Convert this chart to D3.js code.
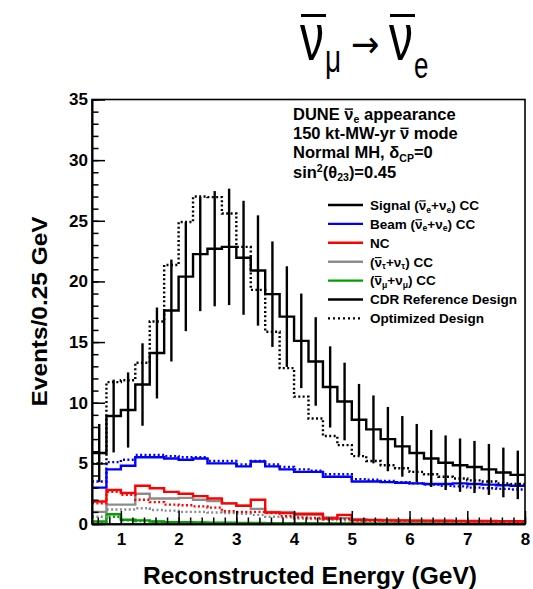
<!DOCTYPE html>
<html>
<head>
<meta charset="utf-8">
<script src="https://cdn.jsdelivr.net/npm/d3@7/dist/d3.min.js"></script>
<style>
  html, body { margin: 0; padding: 0; background: #ffffff; }
  svg { display: block; }
  text { font-family: "Liberation Sans", Arial, Helvetica, sans-serif; }
</style>
</head>
<body>
<svg id="chart" width="533" height="589"></svg>
<script>
// Lower edges of the 0.25 GeV reconstructed-energy bins (0.5 - 8 GeV)
const binEdges = [0.5, 0.75, 1.0, 1.25, 1.5, 1.75, 2.0, 2.25, 2.5, 2.75,
                  3.0, 3.25, 3.5, 3.75, 4.0, 4.25, 4.5, 4.75, 5.0, 5.25,
                  5.5, 5.75, 6.0, 6.25, 6.5, 6.75, 7.0, 7.25, 7.5, 7.75];
const binWidth = 0.25;

// Signal (anti-nue + nue) CC, CDR reference design, with statistical errors
const signalCDR = [5.85, 8.9, 9.4, 11.5, 14.1, 17.6, 20.4, 22.25, 22.7, 22.85,
                   21.95, 20.9, 18.95, 17.1, 15.1, 13.4, 11.3, 10.1, 8.6, 7.8,
                   7.0, 6.4, 5.85, 5.4, 5.05, 4.85, 4.7, 4.5, 4.25, 4.05];
const signalCDRErr = [2.4, 3.0, 3.1, 3.4, 3.75, 4.2, 4.5, 4.7, 4.75, 4.8,
                      4.7, 4.55, 4.35, 4.15, 3.9, 3.65, 3.35, 3.2, 2.95, 2.8,
                      2.65, 2.5, 2.4, 2.35, 2.25, 2.2, 2.15, 2.1, 2.05, 2.0];
// Signal, optimized design
const signalOpt = [5.0, 11.7, 11.85, 13.3, 16.7, 21.35, 24.9, 27.0, 26.95, 25.6,
                   22.85, 19.3, 15.85, 12.85, 10.5, 8.7, 7.25, 6.5, 5.6, 5.2,
                   4.85, 4.6, 4.3, 4.1, 3.9, 3.75, 3.6, 3.5, 3.35, 3.3];

// Beam (anti-nue + nue) CC
const beamCDR = [3.0, 4.5, 4.8, 5.5, 5.5, 5.4, 5.3, 5.4, 5.0, 5.0,
                 4.75, 5.15, 4.75, 4.5, 4.3, 4.3, 3.9, 3.9, 3.5, 3.5,
                 3.45, 3.4, 3.35, 3.3, 3.3, 3.35, 3.3, 3.25, 3.2, 3.15];
const beamOpt = [3.5, 5.1, 5.3, 5.7, 5.7, 5.6, 5.5, 5.5, 5.2, 5.2,
                 4.9, 5.2, 4.9, 4.7, 4.5, 4.4, 4.1, 4.1, 3.7, 3.65,
                 3.55, 3.45, 3.35, 3.25, 3.15, 3.1, 3.0, 2.95, 2.9, 2.85];

// Neutral current
const ncCDR = [1.85, 2.8, 2.55, 3.15, 2.95, 2.65, 2.5, 2.3, 2.1, 1.7,
               1.5, 2.0, 0.95, 0.9, 0.85, 0.85, 0.45, 0.75, 0.33, 0.32,
               0.3, 0.3, 0.28, 0.28, 0.27, 0.26, 0.25, 0.25, 0.24, 0.23];
const ncOpt = [1.7, 2.65, 2.4, 2.0, 1.8, 1.6, 1.55, 1.45, 1.35, 1.05,
               1.0, 1.0, 0.9, 0.65, 0.55, 0.5, 0.45, 0.4, 0.3, 0.28,
               0.26, 0.25, 0.24, 0.23, 0.22, 0.21, 0.2, 0.2, 0.19, 0.18];

// (anti-nutau + nutau) CC
const tauCDR = [1.0, 1.6, 1.6, 2.5, 2.1, 2.1, 2.15, 2.0, 1.9, 1.7,
                1.5, 1.25, 1.0, 1.0, 0.75, 0.75, 0.55, 0.5, 0.4, 0.35,
                0.33, 0.3, 0.28, 0.26, 0.25, 0.23, 0.22, 0.2, 0.2, 0.18];
const tauOpt = [0.6, 1.2, 1.2, 1.3, 1.15, 1.1, 1.0, 1.0, 0.95, 0.9,
                0.85, 0.75, 0.6, 0.55, 0.45, 0.4, 0.35, 0.3, 0.25, 0.22,
                0.2, 0.19, 0.18, 0.17, 0.16, 0.15, 0.14, 0.13, 0.12, 0.12];

// (anti-numu + numu) CC
const numuCDR = [0.2, 0.8, 0.35, 0.3, 0.2, 0.15, 0.15, 0.12, 0.1, 0.1,
                 0.08, 0.08, 0.07, 0.07, 0.06, 0.06, 0.05, 0.05, 0.05, 0.05,
                 0.04, 0.04, 0.04, 0.04, 0.04, 0.03, 0.03, 0.03, 0.03, 0.03];
const numuOpt = [0.15, 0.6, 0.3, 0.25, 0.18, 0.14, 0.12, 0.1, 0.09, 0.08,
                 0.07, 0.07, 0.06, 0.06, 0.05, 0.05, 0.05, 0.04, 0.04, 0.04,
                 0.04, 0.03, 0.03, 0.03, 0.03, 0.03, 0.03, 0.03, 0.03, 0.03];

// Axis ticks
const xTicks = [1, 2, 3, 4, 5, 6, 7, 8];
const yTicks = [0, 5, 10, 15, 20, 25, 30, 35];

const svg = d3.select("#chart");

const x = d3.scaleLinear().domain([0.5, 8]).range([92, 525]);
const y = d3.scaleLinear().domain([0, 35]).range([524, 99.5]);

const colors = {
  signal: "#000000",
  beam: "#0000ff",
  nc: "#ff0000",
  tau: "#8c8c8c",
  numu: "#00a000"
};
const dotted = "2,2.4";

// Step-histogram path through the bin edges
const stepLine = d3.line()
  .x(d => x(d[0]))
  .y(d => y(d[1]))
  .curve(d3.curveStepAfter);

function histPoints(values) {
  const pts = values.map((v, i) => [binEdges[i], v]);
  pts.push([binEdges[binEdges.length - 1] + binWidth, values[values.length - 1]]);
  return pts;
}

const plot = svg.append("g");

const series = [
  { values: numuOpt, color: colors.numu, dash: dotted },
  { values: numuCDR, color: colors.numu, dash: null },
  { values: tauOpt, color: colors.tau, dash: dotted },
  { values: tauCDR, color: colors.tau, dash: null },
  { values: ncOpt, color: colors.nc, dash: dotted },
  { values: ncCDR, color: colors.nc, dash: null },
  { values: beamOpt, color: colors.beam, dash: dotted },
  { values: beamCDR, color: colors.beam, dash: null },
  { values: signalOpt, color: colors.signal, dash: dotted },
  { values: signalCDR, color: colors.signal, dash: null }
];

plot.selectAll("path.hist")
  .data(series)
  .join("path")
  .attr("class", "hist")
  .attr("d", d => stepLine(histPoints(d.values)))
  .attr("fill", "none")
  .attr("stroke", d => d.color)
  .attr("stroke-width", 2.4)
  .attr("stroke-dasharray", d => d.dash);

// Statistical error bars on the CDR signal
plot.selectAll("line.err")
  .data(signalCDR.map((v, i) => ({ x: binEdges[i] + binWidth / 2, v, e: signalCDRErr[i] })))
  .join("line")
  .attr("class", "err")
  .attr("x1", d => x(d.x)).attr("x2", d => x(d.x))
  .attr("y1", d => y(Math.max(0, d.v - d.e)))
  .attr("y2", d => y(d.v + d.e))
  .attr("stroke", "#000")
  .attr("stroke-width", 2.4);

// Axes: ROOT-style inward ticks
const axisFont = g => g.selectAll("text")
  .attr("font-size", 17).attr("font-weight", "bold").attr("fill", "#000")
  .style("font-family", "'Liberation Sans', Arial, sans-serif");

const yMajor = svg.append("g").attr("transform", `translate(${x(0.5)},0)`)
  .call(d3.axisLeft(y).tickValues(yTicks).tickFormat(d3.format("d"))
    .tickSizeInner(-13).tickSizeOuter(0).tickPadding(4));
yMajor.call(axisFont);
svg.append("g").attr("transform", `translate(${x(0.5)},0)`)
  .call(d3.axisLeft(y).tickValues(d3.range(0, 36, 1)).tickFormat("")
    .tickSizeInner(-6.5).tickSizeOuter(0));

const xMajor = svg.append("g").attr("transform", `translate(0,${y(0)})`)
  .call(d3.axisBottom(x).tickValues(xTicks).tickFormat(d3.format("d"))
    .tickSizeInner(-13).tickSizeOuter(0).tickPadding(9));
xMajor.call(axisFont);
svg.append("g").attr("transform", `translate(0,${y(0)})`)
  .call(d3.axisBottom(x).tickValues(d3.range(0.6, 8.01, 0.2)).tickFormat("")
    .tickSizeInner(-6.5).tickSizeOuter(0));

svg.selectAll(".domain").attr("stroke", "#000").attr("stroke-width", 1.6);
svg.selectAll(".tick line").attr("stroke", "#000").attr("stroke-width", 1.5);

// Frame
svg.append("rect")
  .attr("x", x(0.5)).attr("y", y(35))
  .attr("width", x(8) - x(0.5)).attr("height", y(0) - y(35))
  .attr("fill", "none").attr("stroke", "#000").attr("stroke-width", 1.6);

// Axis titles
svg.append("text")
  .attr("x", 310).attr("y", 584)
  .attr("text-anchor", "middle")
  .attr("font-size", 23).attr("font-weight", "bold")
  .attr("textLength", 334).attr("lengthAdjust", "spacingAndGlyphs")
  .text("Reconstructed Energy (GeV)");

svg.append("text")
  .attr("transform", "translate(47,311.5) rotate(-90)")
  .attr("text-anchor", "middle")
  .attr("font-size", 22).attr("font-weight", "bold")
  .attr("textLength", 190).attr("lengthAdjust", "spacingAndGlyphs")
  .text("Events/0.25 GeV");

// Rich text helper: segments of [text, "sub" | "sup" | "bar" | null];
// "bar" segments get an overline (antineutrino notation)
const overbars = [];
function rich(sel, segs, size) {
  const shift = { sub: 0.2 * size, sup: -0.32 * size, bar: 0 };
  let cur = 0;
  segs.forEach(([t, kind]) => {
    const target = kind ? shift[kind] : 0;
    const ts = sel.append("tspan")
      .attr("dy", target - cur)
      .attr("font-size", kind && kind !== "bar" ? size * 0.64 : size)
      .text(t);
    if (kind === "bar") overbars.push({ node: ts.node(), text: sel, size });
    cur = target;
  });
}

// Title: anti-numu -> anti-nue
const title = svg.append("g").attr("font-weight", "normal").attr("fill", "#000");
const titleParts = [
  { t: "\u03bd", x: 300, y: 60, size: 48, sy: 1.4, font: "Liberation Sans" },
  { t: "\u03bc", x: 325, y: 72, size: 28, sy: 1.4, font: "Liberation Sans" },
  { t: "\u2192", x: 351, y: 57, size: 34, sy: 1.1, font: "DejaVu Sans" },
  { t: "\u03bd", x: 389, y: 60, size: 48, sy: 1.4, font: "Liberation Sans" },
  { t: "e", x: 414, y: 78, size: 26, sy: 1.4, font: "Liberation Sans" }
];
title.selectAll("text")
  .data(titleParts)
  .join("text")
  .attr("transform", d => `translate(${d.x},${d.y}) scale(1,${d.sy})`)
  .attr("font-size", d => d.size)
  .style("font-family", d => `'${d.font}', sans-serif`)
  .text(d => d.t);
// Bars over the two nus
title.selectAll("line")
  .data([[301, 326], [390, 415]])
  .join("line")
  .attr("x1", d => d[0]).attr("x2", d => d[1])
  .attr("y1", 15.5).attr("y2", 15.5)
  .attr("stroke", "#000").attr("stroke-width", 3);

// Info block
const nu = "\u03bd";
const info = [
  [["DUNE ", null], [nu, "bar"], ["e", "sub"], [" appearance", null]],
  [["150 kt-MW-yr ", null], [nu, "bar"], [" mode", null]],
  [["Normal MH, \u03b4", null], ["CP", "sub"], ["=0", null]],
  [["sin", null], ["2", "sup"], ["(\u03b8", null], ["23", "sub"], [")=0.45", null]]
];
info.forEach((segs, i) => {
  const t = svg.append("text")
    .attr("x", 293).attr("y", 120 + i * 19.2)
    .attr("font-weight", "bold").attr("fill", "#000");
  rich(t, segs, 16.5);
});

// Legend
const legendItems = [
  { segs: [["Signal (", null], [nu, "bar"], ["e", "sub"], ["+\u03bd", null], ["e", "sub"], [") CC", null]], color: colors.signal, dash: null },
  { segs: [["Beam (", null], [nu, "bar"], ["e", "sub"], ["+\u03bd", null], ["e", "sub"], [") CC", null]], color: colors.beam, dash: null },
  { segs: [["NC", null]], color: colors.nc, dash: null },
  { segs: [["(", null], [nu, "bar"], ["\u03c4", "sub"], ["+\u03bd", null], ["\u03c4", "sub"], [") CC", null]], color: colors.tau, dash: null },
  { segs: [["(", null], [nu, "bar"], ["\u03bc", "sub"], ["+\u03bd", null], ["\u03bc", "sub"], [") CC", null]], color: colors.numu, dash: null },
  { segs: [["CDR Reference Design", null]], color: "#000", dash: null },
  { segs: [["Optimized Design", null]], color: "#000", dash: "2,3" }
];
legendItems.forEach((d, i) => {
  const cy = 205 + i * 18.9;
  svg.append("line")
    .attr("x1", 328).attr("x2", 363).attr("y1", cy).attr("y2", cy)
    .attr("stroke", d.color).attr("stroke-width", 2.4)
    .attr("stroke-dasharray", d.dash);
  const t = svg.append("text")
    .attr("x", 370).attr("y", cy + 4.8)
    .attr("font-weight", "bold").attr("fill", "#000");
  rich(t, d.segs, 13.5);
});

// Overlines above the antineutrino symbols in the text blocks
overbars.forEach(({ node, text, size }) => {
  const bb = node.getBBox();
  const base = +text.attr("y");
  svg.append("line")
    .attr("x1", bb.x + 0.5).attr("x2", bb.x + bb.width - 0.5)
    .attr("y1", base - 0.66 * size).attr("y2", base - 0.66 * size)
    .attr("stroke", "#000").attr("stroke-width", size > 15 ? 1.4 : 1.1);
});
</script>
</body>
</html>
